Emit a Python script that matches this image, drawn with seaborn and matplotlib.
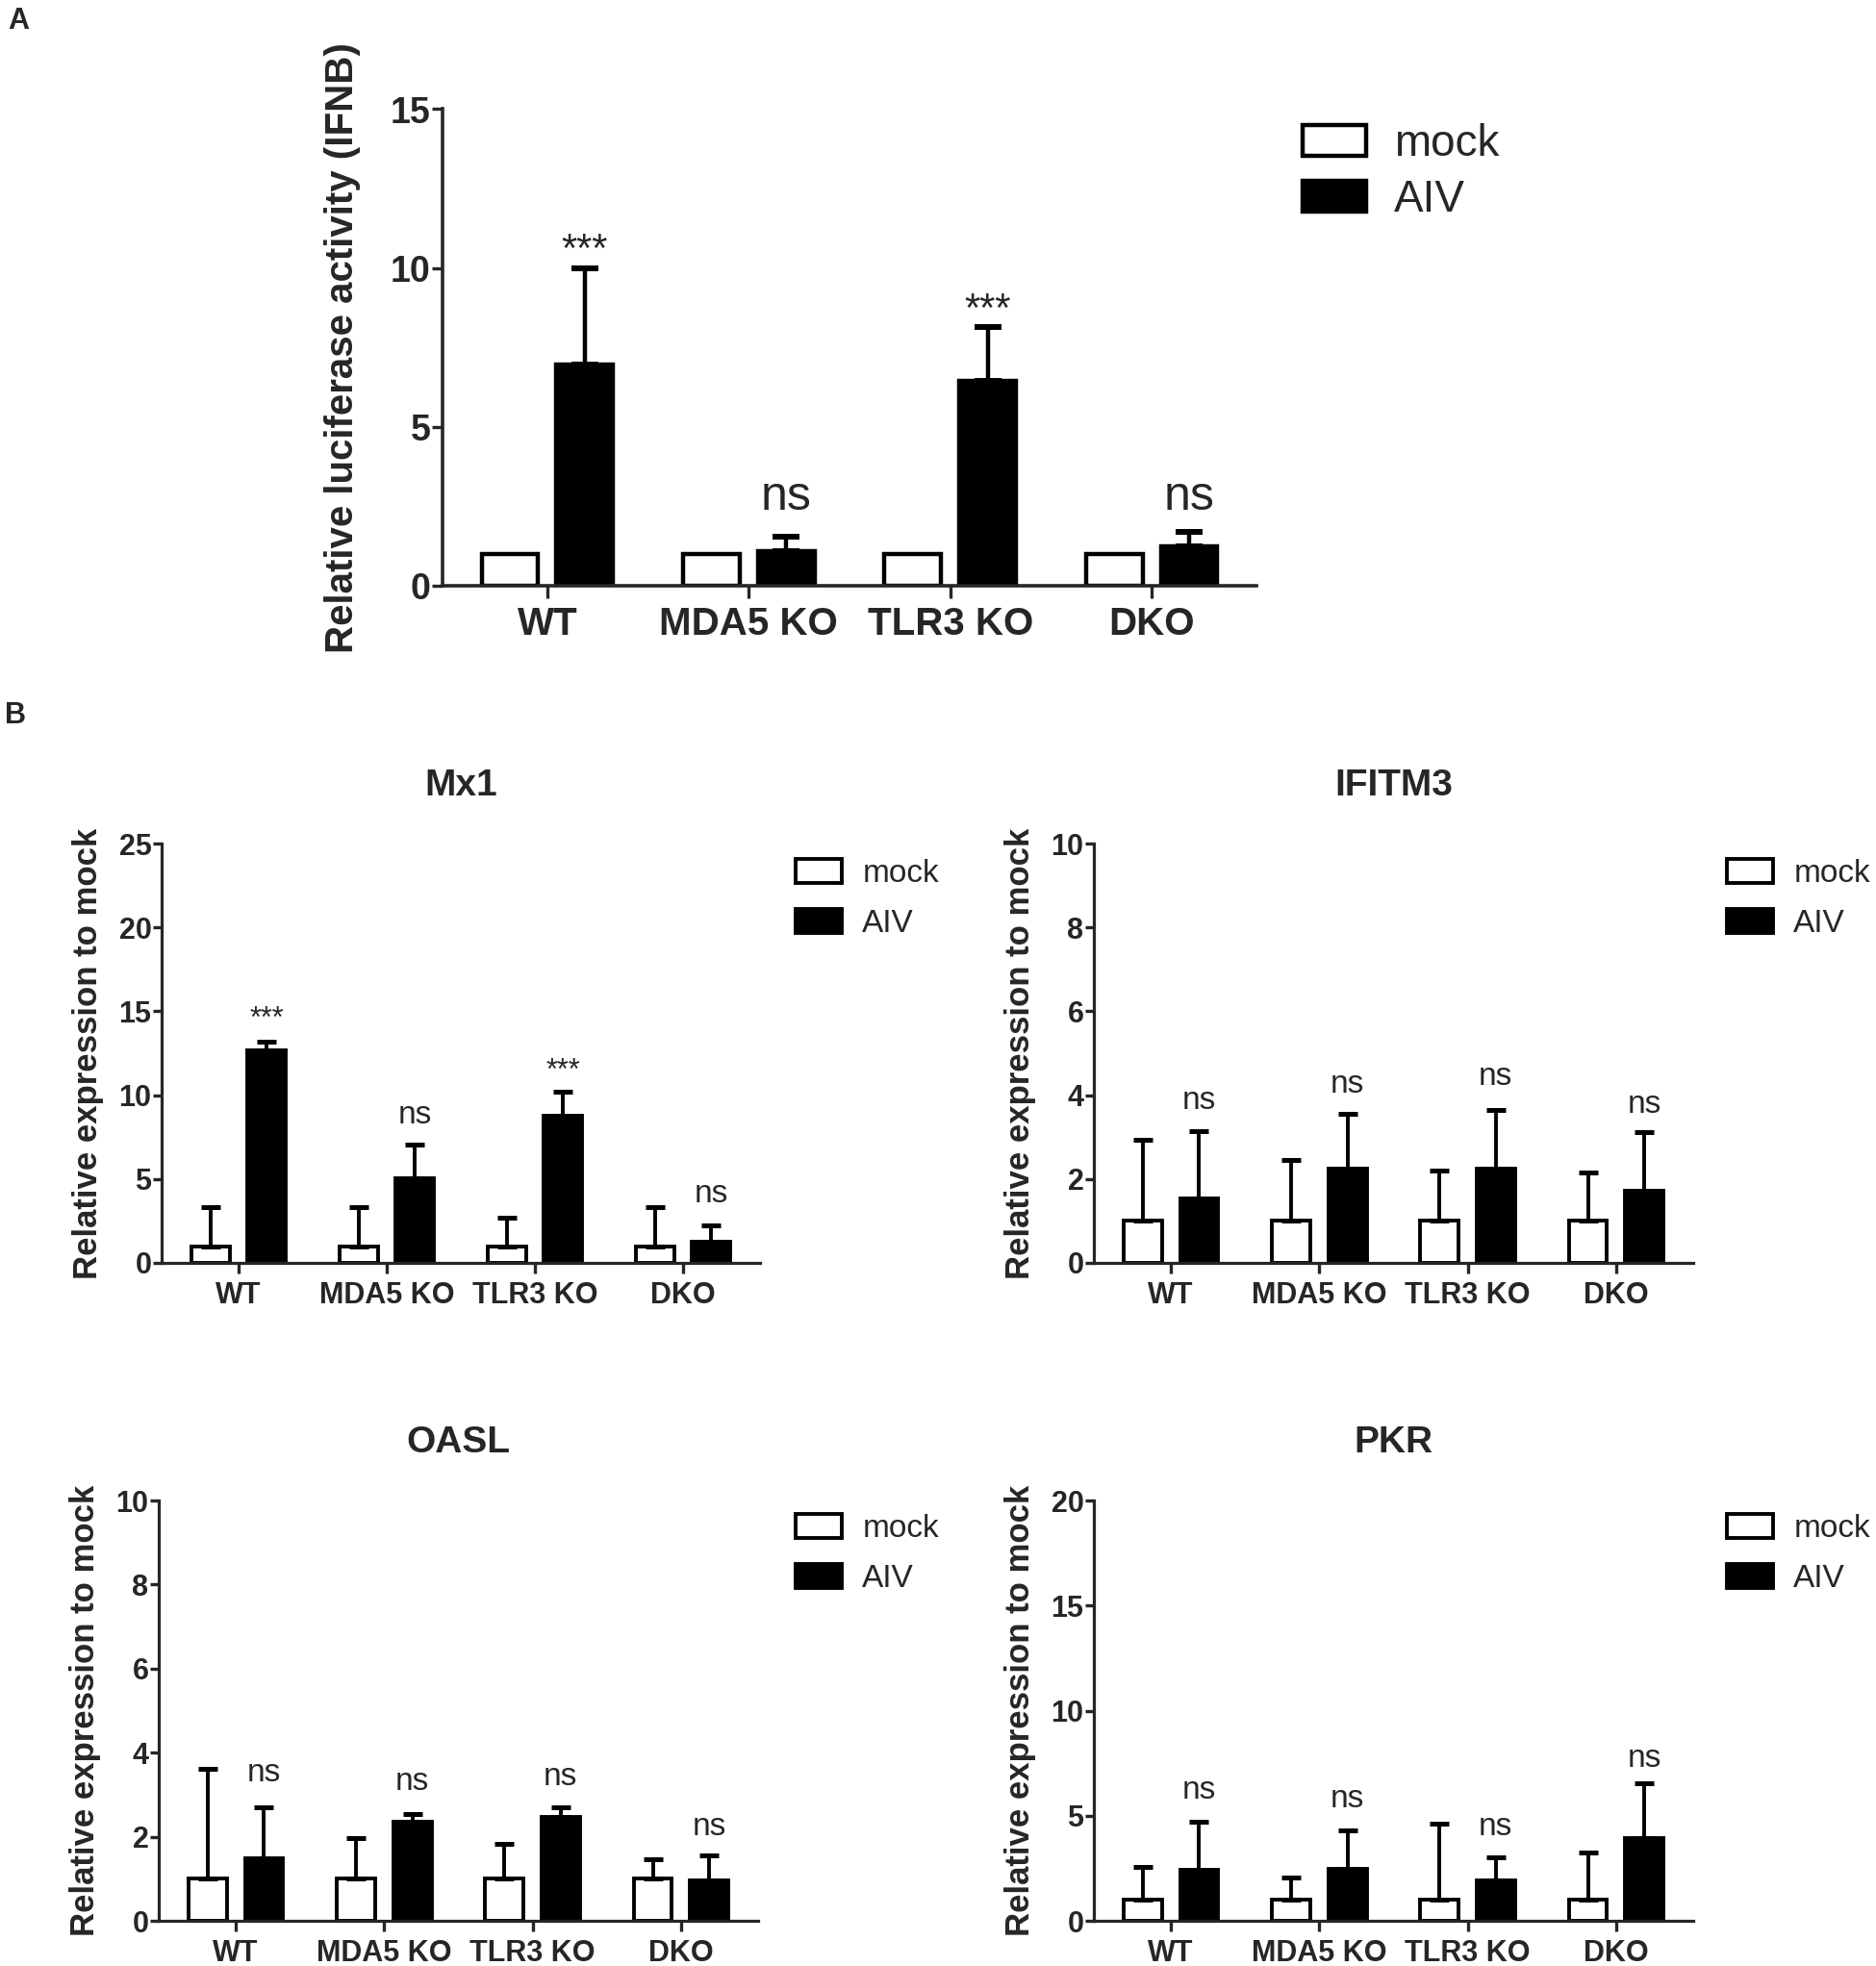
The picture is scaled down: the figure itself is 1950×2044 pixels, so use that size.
import matplotlib
matplotlib.use("Agg")
import matplotlib.pyplot as plt
from matplotlib.patches import Patch
import pandas as pd
import seaborn as sns

# data (mean and upward sd)
genotypes = ["WT", "MDA5 KO", "TLR3 KO", "DKO"]
treatments = ["mock", "AIV"]

# A - IFNB luciferase
ifnb_mock = [1.0, 1.0, 1.0, 1.0]
ifnb_mock_sd = [0.0, 0.0, 0.0, 0.0]
ifnb_aiv = [6.95, 1.1, 6.45, 1.25]
ifnb_aiv_sd = [3.05, 0.45, 1.7, 0.45]
ifnb_sig = ["***", "ns", "***", "ns"]
ifnb_sig_y = [10.95, 2.8, 9.1, 2.8]

# B - ISGs
mx1_mock = [1.0, 1.0, 1.0, 1.0]
mx1_mock_sd = [2.3, 2.3, 1.7, 2.3]
mx1_aiv = [12.7, 5.05, 8.8, 1.26]
mx1_aiv_sd = [0.5, 2.0, 1.4, 0.95]
mx1_sig = ["***", "ns", "***", "ns"]
mx1_sig_y = [15.1, 8.8, 12.0, 4.1]

ifitm3_mock = [1.0, 1.0, 1.0, 1.0]
ifitm3_mock_sd = [1.93, 1.45, 1.2, 1.15]
ifitm3_aiv = [1.53, 2.25, 2.25, 1.72]
ifitm3_aiv_sd = [1.61, 1.3, 1.4, 1.4]
ifitm3_sig = ["ns", "ns", "ns", "ns"]
ifitm3_sig_y = [3.87, 4.26, 4.43, 3.78]

oasl_mock = [1.0, 1.0, 1.0, 1.0]
oasl_mock_sd = [2.62, 0.97, 0.83, 0.47]
oasl_aiv = [1.49, 2.36, 2.47, 0.96]
oasl_aiv_sd = [1.21, 0.19, 0.23, 0.6]
oasl_sig = ["ns", "ns", "ns", "ns"]
oasl_sig_y = [3.52, 3.3, 3.43, 2.22]

pkr_mock = [1.0, 1.0, 1.0, 1.0]
pkr_mock_sd = [1.56, 1.06, 3.62, 2.25]
pkr_aiv = [2.43, 2.47, 1.92, 3.94]
pkr_aiv_sd = [2.28, 1.83, 1.1, 2.6]
pkr_sig = ["ns", "ns", "ns", "ns"]
pkr_sig_y = [6.2, 5.77, 4.44, 7.73]

sns.set_theme(style="ticks")
plt.rcParams["font.family"] = ["Liberation Sans", "DejaVu Sans"]

W, H = 1950, 2044
fig = plt.figure(figsize=(W / 100, H / 100), dpi=100)


def fbox(x0, y0, x1, y1):
    # pixel box -> figure fraction rect
    return [x0 / W, 1 - y1 / H, (x1 - x0) / W, (y1 - y0) / H]


def panel(rect, mock, mock_sd, aiv, aiv_sd, sig, sig_y, ymax, ystep, ylabel,
          title=None, big=False, leg_xy=(0, 0)):
    ax = fig.add_axes(rect)
    df = pd.DataFrame({
        "genotype": genotypes * 2,
        "treatment": ["mock"] * 4 + ["AIV"] * 4,
        "value": list(mock) + list(aiv),
    })
    lw = 3.2 if big else 2.8
    sns.barplot(data=df, x="genotype", y="value", hue="treatment",
                order=genotypes, hue_order=treatments,
                palette={"mock": "white", "AIV": "black"},
                edgecolor="black", linewidth=lw,
                width=0.744 if big else 0.76, gap=0.245 if big else 0.32,
                errorbar=None, legend=False, ax=ax)
    cap = 10 if big else 7.5
    cth = 4.3 if big else 3.6
    for cont, sds in zip(ax.containers, [mock_sd, aiv_sd]):
        for bar, e in zip(cont, sds):
            if e <= 0:
                continue
            xc = bar.get_x() + bar.get_width() / 2
            ax.errorbar(xc, bar.get_height(), yerr=[[0], [e]], fmt="none",
                        ecolor="black", elinewidth=lw, capsize=cap, capthick=cth,
                        zorder=1)
    # significance labels above AIV bars
    fs_ns = 36 if big else 24
    fs_st = 30 if big else 22
    for bar, s, y in zip(ax.containers[1], sig, sig_y):
        xc = bar.get_x() + bar.get_width() / 2
        if s == "ns":
            ax.text(xc, y, s, ha="center", va="center", fontsize=fs_ns)
        else:
            ax.annotate(s, (xc, y), xytext=(0, -0.34 * fs_st),
                        textcoords="offset points", ha="center", va="center",
                        fontsize=fs_st)
    ax.set_xlim(-0.52, 3.52)
    ax.set_ylim(0, ymax)
    ax.set_yticks(range(0, ymax + 1, ystep))
    sns.despine(ax=ax)
    for sp in ["left", "bottom"]:
        ax.spines[sp].set_linewidth(2.6 if big else 2.3)
    ax.tick_params(axis="y", width=2.4, length=8 if big else 6.5,
                   labelsize=27 if big else 22, pad=1)
    ax.tick_params(axis="x", width=2.4, length=9 if big else 8,
                   labelsize=29 if big else 22, pad=6)
    for t in ax.get_yticklabels() + ax.get_xticklabels():
        t.set_fontweight("bold")
    ax.set_xlabel("")
    ax.set_ylabel(ylabel, fontsize=29 if big else 25, fontweight="bold",
                  va="center")
    ax.yaxis.set_label_coords(-0.123, 0.5)
    if title:
        ax.set_title(title, fontsize=28, fontweight="bold", pad=36)
    # legend
    fsl = 33 if big else 24
    handles = [Patch(facecolor="white", edgecolor="black", linewidth=lw,
                     joinstyle="round"),
               Patch(facecolor="black", edgecolor="black", linewidth=lw,
                     joinstyle="round")]
    ax.legend(handles, treatments, loc="upper left",
              bbox_to_anchor=(leg_xy[0] / W, 1 - leg_xy[1] / H),
              bbox_transform=fig.transFigure, frameon=False,
              fontsize=fsl, borderpad=0, borderaxespad=0,
              handlelength=1.44, handleheight=0.7 if big else 0.78,
              labelspacing=0.3 if big else 0.62, handletextpad=0.64)
    return ax


panel(fbox(460, 113.5, 1306, 609), ifnb_mock, ifnb_mock_sd, ifnb_aiv,
      ifnb_aiv_sd, ifnb_sig, ifnb_sig_y, 15, 5,
      "Relative luciferase activity (IFNB)", big=True, leg_xy=(1354, 128))

ylab = "Relative expression to mock"
panel(fbox(168, 877, 790, 1313), mx1_mock, mx1_mock_sd, mx1_aiv, mx1_aiv_sd,
      mx1_sig, mx1_sig_y, 25, 5, ylab, title="Mx1", leg_xy=(827, 893))
panel(fbox(1137, 877, 1760, 1313), ifitm3_mock, ifitm3_mock_sd, ifitm3_aiv,
      ifitm3_aiv_sd, ifitm3_sig, ifitm3_sig_y, 10, 2, ylab, title="IFITM3",
      leg_xy=(1795, 893))
panel(fbox(165, 1560, 788, 1997), oasl_mock, oasl_mock_sd, oasl_aiv,
      oasl_aiv_sd, oasl_sig, oasl_sig_y, 10, 2, ylab, title="OASL",
      leg_xy=(827, 1574))
panel(fbox(1137, 1560, 1760, 1997), pkr_mock, pkr_mock_sd, pkr_aiv,
      pkr_aiv_sd, pkr_sig, pkr_sig_y, 20, 5, ylab, title="PKR",
      leg_xy=(1795, 1574))

fig.text(19 / W, 1 - 22 / H, "A", fontsize=22, fontweight="bold",
         ha="center", va="center")
fig.text(16 / W, 1 - 744 / H, "B", fontsize=22, fontweight="bold",
         ha="center", va="center")

fig.savefig("out.png", dpi=100, facecolor="white")
